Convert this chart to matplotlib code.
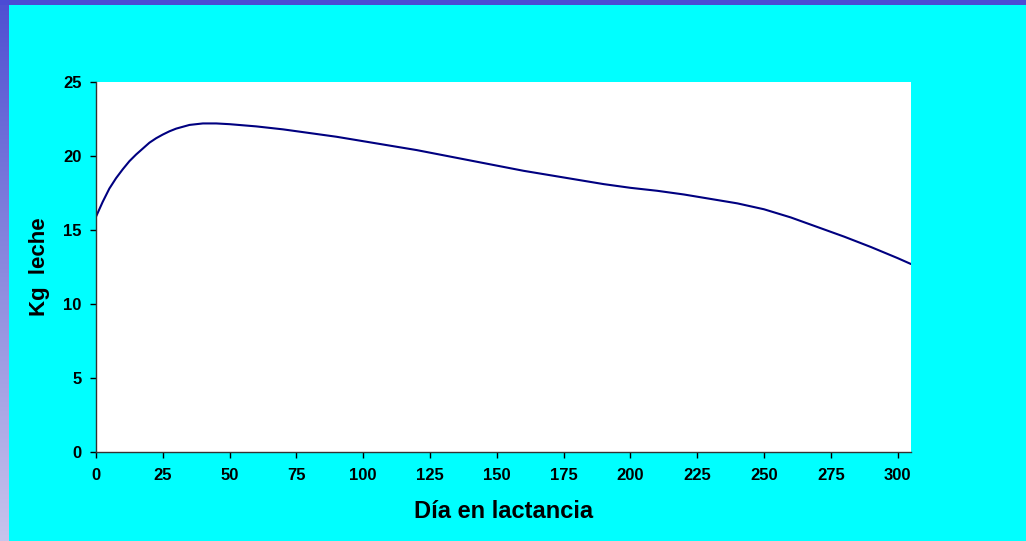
import numpy as np
import matplotlib
matplotlib.use("Agg")
import matplotlib.pyplot as plt
from matplotlib.patches import Rectangle
from matplotlib.colors import LinearSegmentedColormap

days = [0, 2.5, 5, 7.5, 10, 12.5, 15, 17.5, 20, 22.5, 25, 27.5, 30, 35, 40, 45,
        50, 60, 70, 80, 90, 100, 110, 120, 130, 140, 150, 160, 170, 180, 190,
        200, 210, 220, 230, 240, 250, 260, 270, 280, 290, 300, 305]
kg_leche = [15.9, 16.9, 17.8, 18.5, 19.1, 19.65, 20.1, 20.5, 20.9, 21.2, 21.45,
            21.67, 21.85, 22.1, 22.2, 22.2, 22.15, 22.0, 21.8, 21.55, 21.3, 21.0,
            20.7, 20.4, 20.05, 19.7, 19.35, 19.0, 18.7, 18.4, 18.1, 17.85, 17.65,
            17.4, 17.1, 16.8, 16.4, 15.85, 15.2, 14.55, 13.85, 13.1, 12.7]
x_ticks = [0, 25, 50, 75, 100, 125, 150, 175, 200, 225, 250, 275, 300]
y_ticks = [0, 5, 10, 15, 20, 25]

plt.rcParams['font.family'] = ['Liberation Sans', 'DejaVu Sans']
plt.rcParams['font.weight'] = 'bold'

W, H = 1026, 541
fig = plt.figure(figsize=(W / 100, H / 100), dpi=100)
fig.patch.set_facecolor('#00FFFF')

# top purple strip
fig.patches.append(Rectangle((0, 1 - 5 / H), 1, 5 / H, transform=fig.transFigure,
                             facecolor='#4B4BD4', edgecolor='none', zorder=0))
# left gradient strip
gax = fig.add_axes([0, 0, 9 / W, 1 - 5 / H])
grad = np.linspace(0, 1, 256).reshape(-1, 1)
cmap = LinearSegmentedColormap.from_list('g', ['#5050D2', '#C8C4EC'])
gax.imshow(grad, aspect='auto', cmap=cmap, extent=[0, 1, 0, 1], origin='upper')
gax.set_axis_off()

ax = fig.add_axes([96 / W, 1 - 452 / H, (911 - 96) / W, (452 - 82) / H])
ax.set_facecolor('white')
ax.plot(days, kg_leche, color='#000080', lw=1.5, solid_joinstyle='round',
        solid_capstyle='round')
ax.set_xlim(0, 305)
ax.set_ylim(0, 25)
ax.set_xticks(x_ticks)
ax.set_yticks(y_ticks)
for s in ['top', 'right']:
    ax.spines[s].set_visible(False)
for s in ['left', 'bottom']:
    ax.spines[s].set_color('#333333')
    ax.spines[s].set_linewidth(1.0)
ax.tick_params(axis='both', direction='out', length=4.5, width=1, colors='black',
               labelsize=12)
ax.tick_params(axis='x', pad=7)
ax.tick_params(axis='y', pad=6)
for lab in ax.get_xticklabels() + ax.get_yticklabels():
    lab.set_fontweight('bold')
ax.set_xlabel('Día en lactancia', fontsize=17, fontweight='bold', labelpad=12)
ax.set_ylabel('Kg  leche', fontsize=16, fontweight='bold', labelpad=9)

fig.savefig('out.png', dpi=100, facecolor=fig.get_facecolor())
